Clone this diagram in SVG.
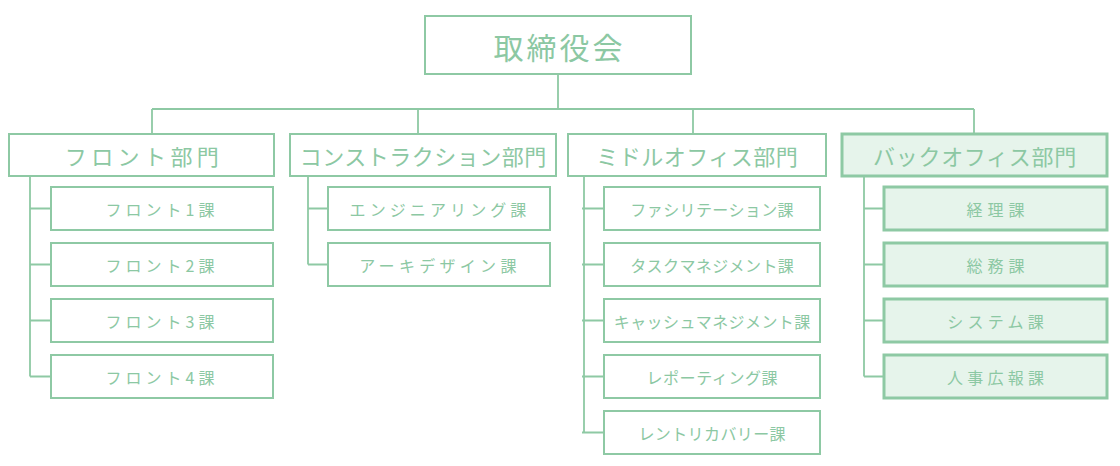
<svg xmlns="http://www.w3.org/2000/svg" width="1120" height="466" viewBox="0 0 1120 466">
<style>
rect{fill:#ffffff;stroke:#8ec9a4;stroke-width:2}
rect.back{fill:#e6f4eb;stroke-width:3}
text{font-family:"Noto Sans CJK JP","Noto Sans",sans-serif;fill:#8cc8a3;text-anchor:middle}
.t0{font-size:30px;letter-spacing:3px}
.d{font-size:22px}
.s{font-size:16px}
#connectors path{fill:none;stroke:#8ec9a4;stroke-width:1.8}
</style>
<rect x="0" y="0" width="1120" height="466" style="fill:#ffffff;stroke:none"/>
<g id="connectors">
<path d="M558 75V109M152 109H974M152 109V133M418 109V133M693 109V133M974 109V133"/>
<path d="M30 176V376.5M30 208.5H51M30 264.5H51M30 320.5H51M30 376.5H51"/>
<path d="M308 176V264.5M308 208.5H328M308 264.5H328"/>
<path d="M584 176V433M582 208.5H604M582 264.5H604M582 320.5H604M582 376.5H604M582 432.5H604"/>
<path d="M864 176V376.5M864 208.5H884M864 264.5H884M864 320.5H884M864 376.5H884"/>
</g>
<g id="board"><rect x="425" y="16" width="266" height="58"/><text class="t0" x="559.5" y="59">取締役会</text></g>
<g id="dept-front"><rect x="9" y="134" width="265" height="42"/><text class="d" x="144" y="165" style="letter-spacing:4.4px">フロント部門</text></g>
<g id="dept-construction"><rect x="290" y="134" width="266" height="42"/><text class="d" x="423.3" y="165" style="letter-spacing:0.5px">コンストラクション部門</text></g>
<g id="dept-middle"><rect x="568" y="134" width="258" height="42"/><text class="d" x="697.3" y="165" style="letter-spacing:0.5px">ミドルオフィス部門</text></g>
<g id="dept-back"><rect class="back" x="842" y="134" width="265" height="42"/><text class="d" x="975" y="165" style="letter-spacing:0.7px">バックオフィス部門</text></g>

<g id="front-1"><rect x="51" y="187" width="222" height="43"/><text class="s" x="162" y="216" style="letter-spacing:4px">フロント1課</text></g>
<g id="front-2"><rect x="51" y="243" width="222" height="43"/><text class="s" x="162" y="272" style="letter-spacing:4px">フロント2課</text></g>
<g id="front-3"><rect x="51" y="299" width="222" height="43"/><text class="s" x="162" y="328" style="letter-spacing:4px">フロント3課</text></g>
<g id="front-4"><rect x="51" y="355" width="222" height="43"/><text class="s" x="162" y="384" style="letter-spacing:4px">フロント4課</text></g>

<g id="cons-1"><rect x="328" y="187" width="222" height="43"/><text class="s" x="440" y="216" style="letter-spacing:4.1px">エンジニアリング課</text></g>
<g id="cons-2"><rect x="328" y="243" width="222" height="43"/><text class="s" x="440" y="272" style="letter-spacing:4.3px">アーキデザイン課</text></g>

<g id="mid-1"><rect x="604" y="187" width="216" height="43"/><text class="s" x="712.2" y="216" style="letter-spacing:0.4px">ファシリテーション課</text></g>
<g id="mid-2"><rect x="604" y="243" width="216" height="43"/><text class="s" x="712.2" y="272" style="letter-spacing:0.4px">タスクマネジメント課</text></g>
<g id="mid-3"><rect x="604" y="299" width="216" height="43"/><text class="s" x="712.2" y="328" style="letter-spacing:0.4px">キャッシュマネジメント課</text></g>
<g id="mid-4"><rect x="604" y="355" width="216" height="43"/><text class="s" x="712.3" y="384" style="letter-spacing:0.6px">レポーティング課</text></g>
<g id="mid-5"><rect x="604" y="411" width="216" height="43"/><text class="s" x="712.2" y="440" style="letter-spacing:0.4px">レントリカバリー課</text></g>

<g id="back-1"><rect class="back" x="884" y="187" width="223" height="43"/><text class="s" x="998" y="216" style="letter-spacing:5px">経理課</text></g>
<g id="back-2"><rect class="back" x="884" y="243" width="223" height="43"/><text class="s" x="998" y="272" style="letter-spacing:5px">総務課</text></g>
<g id="back-3"><rect class="back" x="884" y="299" width="223" height="43"/><text class="s" x="997.6" y="328" style="letter-spacing:4.2px">システム課</text></g>
<g id="back-4"><rect class="back" x="884" y="355" width="223" height="43"/><text class="s" x="997.6" y="384" style="letter-spacing:4.2px">人事広報課</text></g>
</svg>
